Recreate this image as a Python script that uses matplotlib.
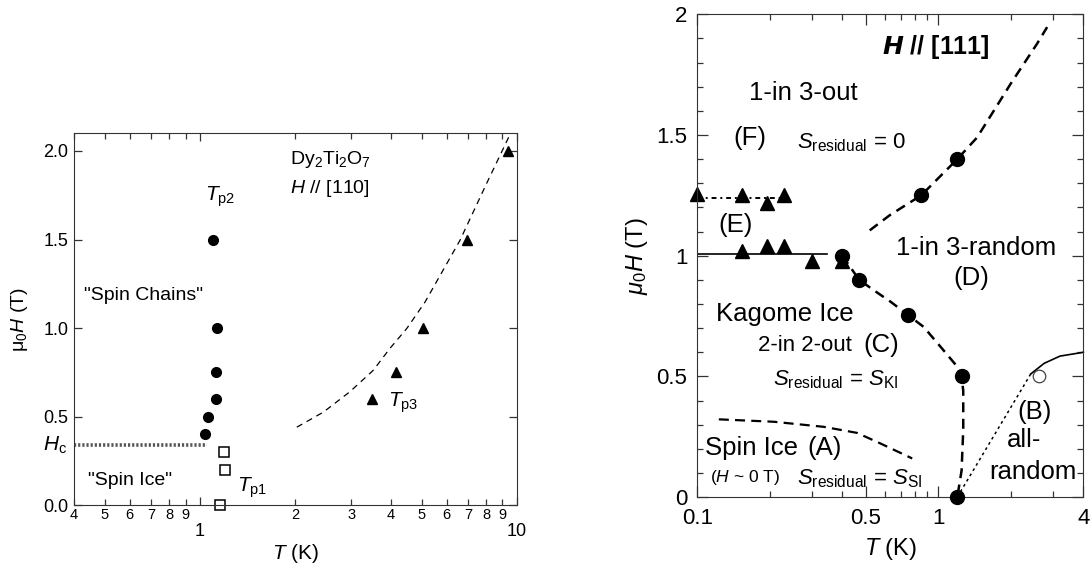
"""
Dy2Ti2O7 の磁場-温度相図 (H // [110] と H // [111]) を2枚並べて描く。
"""

import numpy as np
import matplotlib.pyplot as plt
from matplotlib.ticker import FixedLocator, FixedFormatter, NullFormatter

plt.rcParams['font.family'] = ['Liberation Sans', 'DejaVu Sans']
plt.rcParams['mathtext.fontset'] = 'custom'
plt.rcParams['mathtext.rm'] = 'Liberation Sans'
plt.rcParams['mathtext.it'] = 'Liberation Sans:italic'
plt.rcParams['mathtext.bf'] = 'Liberation Sans:bold'

# --- 左: H // [110] ---
tp2_T = [1.10, 1.13, 1.12, 1.12, 1.06, 1.04]
tp2_H = [1.5, 1.0, 0.75, 0.6, 0.5, 0.4]
tp1_T = [1.19, 1.20, 1.16]
tp1_H = [0.3, 0.2, 0.0]
tp3_T = [3.50, 4.15, 5.06, 6.94, 9.39]
tp3_H = [0.6, 0.75, 1.0, 1.5, 2.0]
fit110_T = [2.02, 2.45, 2.97, 3.52, 3.97, 4.49, 5.13, 6.61, 8.02, 9.55]
fit110_H = [0.44, 0.525, 0.64, 0.761, 0.884, 0.997, 1.147, 1.495, 1.816, 2.1]
hc_T = [0.4, 1.05]
hc_H = [0.34, 0.34]
left_minor = [0.4, 0.5, 0.6, 0.7, 0.8, 0.9, 2, 3, 4, 5, 6, 7, 8, 9]
left_minor_labels = ["4", "5", "6", "7", "8", "9", "2", "3", "4", "5", "6", "7", "8", "9"]
left_major = [1, 10]
left_major_labels = ["1", "10"]
left_yticks = [0.0, 0.5, 1.0, 1.5, 2.0]

# --- 右: H // [111] ---
circ_T = [1.2, 1.25, 0.75, 0.47, 0.40, 0.85, 1.2]
circ_H = [0.0, 0.5, 0.754, 0.9, 1.0, 1.25, 1.40]
open_T = [2.61]
open_H = [0.5]
triE_T = [0.154, 0.194, 0.229, 0.30, 0.40]
triE_H = [1.02, 1.04, 1.04, 0.98, 0.98]
triF_T = [0.1, 0.154, 0.194, 0.229]
triF_H = [1.257, 1.25, 1.219, 1.25]
lineE_T = [0.1, 0.346]
lineE_H = [1.005, 1.005]
lineF_T = [0.1, 0.248]
lineF_H = [1.239, 1.239]
upper_T = [0.52, 0.63, 0.85, 1.2, 1.45, 2.0, 2.57, 2.83]
upper_H = [1.105, 1.168, 1.25, 1.40, 1.49, 1.713, 1.878, 1.947]
kag_T = [0.40, 0.47, 0.54, 0.635, 0.75, 0.87, 1.05, 1.2, 1.25, 1.27, 1.27, 1.25, 1.2]
kag_H = [1.0, 0.9, 0.857, 0.809, 0.754, 0.705, 0.609, 0.54, 0.5, 0.44, 0.28, 0.11, 0.0]
ice_T = [0.123, 0.208, 0.335, 0.46, 0.576, 0.78]
ice_H = [0.322, 0.312, 0.291, 0.266, 0.222, 0.16]
allr_T = [1.2, 2.42]
allr_H = [0.0, 0.51]
high_T = [2.42, 2.75, 3.2, 3.9, 4.0]
high_H = [0.51, 0.554, 0.584, 0.598, 0.6]
right_xmajor = [0.1, 0.5, 1, 4]
right_xmajor_labels = ["0.1", "0.5", "1", "4"]
right_xminor = [0.2, 0.3, 0.4, 0.6, 0.7, 0.8, 0.9, 2, 3]
right_yticks = [0, 0.5, 1, 1.5, 2]
right_ytick_labels = ["0", "0.5", "1", "1.5", "2"]

fig = plt.figure(figsize=(10.91, 5.72), dpi=100)
ax1 = fig.add_axes([0.0678, 0.117, 0.406, 0.650])
ax2 = fig.add_axes([0.639, 0.131, 0.354, 0.844])

# 左パネル
ax1.plot(hc_T, hc_H, color='#555555', lw=2.6, ls=(0, (0.6, 0.55)), solid_capstyle='butt')
ax1.plot(fit110_T, fit110_H, color='black', lw=0.9, ls=(0, (5, 4)))
ax1.plot(tp2_T, tp2_H, 'o', color='black', ms=7)
ax1.plot(tp1_T, tp1_H, 's', mfc='white', mec='black', mew=1.1, ms=7.5, clip_on=False)
ax1.plot(tp3_T, tp3_H, '^', color='black', ms=7.5)

ax1.set_xscale('log')
ax1.set_xlim(0.4, 10)
ax1.set_ylim(0, 2.1)
ax1.xaxis.set_major_locator(FixedLocator(left_major))
ax1.xaxis.set_major_formatter(FixedFormatter(left_major_labels))
ax1.xaxis.set_minor_locator(FixedLocator(left_minor))
ax1.xaxis.set_minor_formatter(FixedFormatter(left_minor_labels))
ax1.set_yticks(left_yticks)
ax1.set_yticklabels([f"{v:.1f}" for v in left_yticks])
ax1.tick_params(which='both', direction='in', top=True, right=True, width=0.9, color='#333333')
ax1.tick_params(axis='x', which='major', length=6, pad=13, labelsize=13)
ax1.tick_params(axis='x', which='minor', length=4, pad=2, labelsize=10.5)
ax1.tick_params(axis='y', length=6, pad=4, labelsize=13)
for s in ax1.spines.values():
    s.set_color('#333333')

ax1.set_xlabel('$T$ (K)', fontsize=15)
ax1.xaxis.set_label_coords(0.5, -0.1)
ax1.set_ylabel('μ$_0$$H$ (T)', fontsize=14)
ax1.yaxis.set_label_coords(-0.1, 0.5)

ax1.text(1.157, 1.74, r'$T_{\rm p2}$', fontsize=15, ha='center', va='center')
ax1.text(0.661, 1.185, '"Spin Chains"', fontsize=14, ha='center', va='center')
ax1.text(1.92, 1.95, r'Dy$_2$Ti$_2$O$_7$', fontsize=14, ha='left', va='center')
ax1.text(1.92, 1.79, r'$H$ // [110]', fontsize=14, ha='left', va='center')
ax1.text(3.92, 0.58, r'$T_{\rm p3}$', fontsize=15, ha='left', va='center')
ax1.text(1.31, 0.1, r'$T_{\rm p1}$', fontsize=15, ha='left', va='center')
ax1.text(0.60, 0.14, '"Spin Ice"', fontsize=14, ha='center', va='center')
ax1.text(-0.015, 0.34, r'$H_{\rm c}$', fontsize=15, ha='right', va='center',
         transform=ax1.get_yaxis_transform())

# 右パネル
ax2.plot(lineE_T, lineE_H, color='black', lw=1.2)
ax2.plot(lineF_T, lineF_H, color='black', lw=1.4, ls=(0, (2.5, 2, 1, 2)))
ax2.plot(upper_T, upper_H, color='black', lw=1.8, ls=(0, (4, 2.6)))
ax2.plot(kag_T, kag_H, color='black', lw=1.8, ls=(0, (4, 2.6)))
ax2.plot(ice_T, ice_H, color='black', lw=1.6, ls=(0, (4.5, 2.8)))
ax2.plot(allr_T, allr_H, color='black', lw=1.1, ls=(0, (1.8, 2.2)))
ax2.plot(high_T, high_H, color='black', lw=1.2, clip_on=False)
ax2.plot(triE_T, triE_H, '^', color='black', ms=9.5, clip_on=False)
ax2.plot(triF_T, triF_H, '^', color='black', ms=9.5, clip_on=False)
ax2.plot(circ_T, circ_H, 'o', color='black', ms=10, clip_on=False, zorder=4)
ax2.plot(open_T, open_H, 'o', mfc='white', mec='#444444', mew=0.9, ms=9, zorder=4)

ax2.set_xscale('log')
ax2.set_xlim(0.1, 4)
ax2.set_ylim(0, 2)
ax2.xaxis.set_major_locator(FixedLocator(right_xmajor))
ax2.xaxis.set_major_formatter(FixedFormatter(right_xmajor_labels))
ax2.xaxis.set_minor_locator(FixedLocator(right_xminor))
ax2.xaxis.set_minor_formatter(NullFormatter())
ax2.set_yticks(right_yticks)
ax2.set_yticklabels(right_ytick_labels)
ax2.yaxis.set_minor_locator(FixedLocator(np.arange(0.1, 2.0, 0.1)))
ax2.tick_params(which='both', direction='in', top=True, right=True, width=0.9, color='#333333')
ax2.tick_params(which='major', length=8, labelsize=16)
ax2.tick_params(axis='x', which='major', pad=8)
ax2.tick_params(axis='y', which='major', pad=7)
ax2.tick_params(which='minor', length=4.5)
for s in ax2.spines.values():
    s.set_color('#333333')

ax2.set_xlabel('$T$ (K)', fontsize=17)
ax2.xaxis.set_label_coords(0.5, -0.08)
ax2.set_ylabel(r'$\mu_0H$ (T)', fontsize=17)
ax2.yaxis.set_label_coords(-0.122, 0.5)

ax2.text(0.975, 1.863, r'$\boldsymbol{H}$ // [111]', fontsize=18, ha='center', va='center',
         fontweight='bold')
ax2.text(0.276, 1.673, '1-in 3-out', fontsize=18.5, ha='center', va='center')
ax2.text(0.166, 1.487, '(F)', fontsize=18.5, ha='center', va='center')
ax2.text(0.26, 1.47, r'$S_{\rm residual}$ = 0', fontsize=16, ha='left', va='center')
ax2.text(0.144, 1.126, '(E)', fontsize=18.5, ha='center', va='center')
ax2.text(1.43, 1.031, '1-in 3-random', fontsize=18.5, ha='center', va='center')
ax2.text(1.37, 0.907, '(D)', fontsize=18.5, ha='center', va='center')
ax2.text(0.232, 0.758, 'Kagome Ice', fontsize=18.5, ha='center', va='center')
ax2.text(0.178, 0.629, '2-in 2-out', fontsize=16, ha='left', va='center')
ax2.text(0.489, 0.629, '(C)', fontsize=18.5, ha='left', va='center')
ax2.text(0.207, 0.485, r'$S_{\rm residual}$ = $S_{\rm KI}$', fontsize=16, ha='left', va='center')
ax2.text(0.108, 0.203, 'Spin Ice', fontsize=18.5, ha='left', va='center')
ax2.text(0.286, 0.203, '(A)', fontsize=18.5, ha='left', va='center')
ax2.text(0.113, 0.083, '($H$ ~ 0 T)', fontsize=12.5, ha='left', va='center')
ax2.text(0.26, 0.075, r'$S_{\rm residual}$ = $S_{\rm SI}$', fontsize=16, ha='left', va='center')
ax2.text(2.5, 0.352, '(B)', fontsize=18.5, ha='center', va='center')
ax2.text(2.27, 0.236, 'all-', fontsize=18.5, ha='center', va='center')
ax2.text(2.46, 0.104, 'random', fontsize=18.5, ha='center', va='center')

fig.savefig('out.png', dpi=100, facecolor='white')
